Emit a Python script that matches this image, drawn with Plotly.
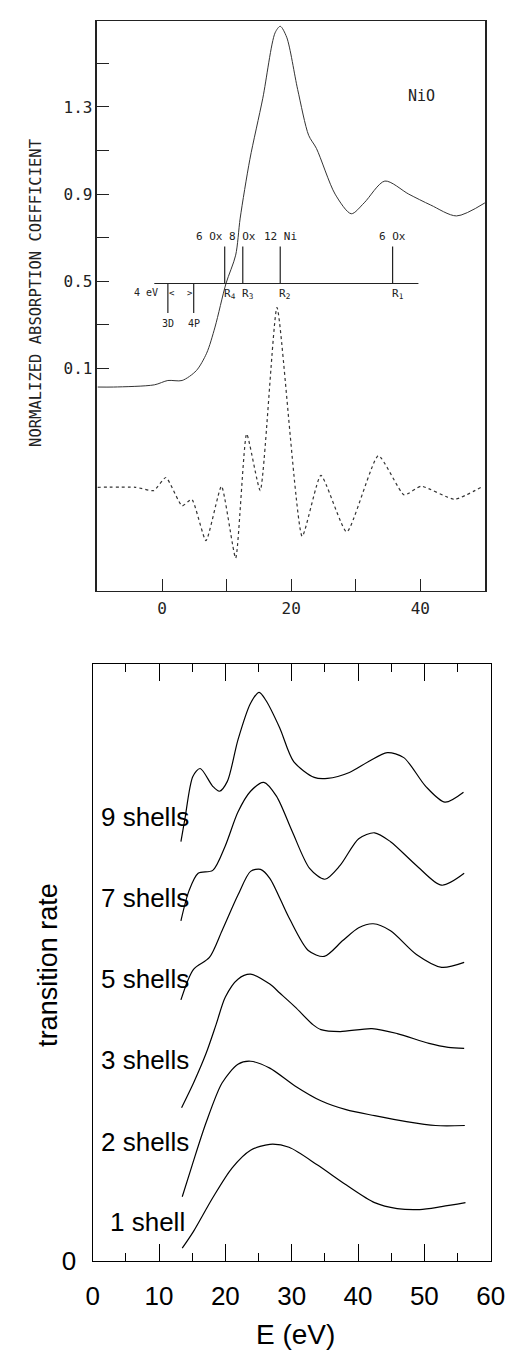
import plotly.graph_objects as go

# ---------------- top panel: NiO absorption ----------------
E_ABS = [-10, -7.5, -1.2, 0.9, 3.1, 5.3, 6.9, 8.2, 9.9, 11.4, 12.1, 13.6, 15.6, 17.5, 18.3,
         19.3, 21.0, 22.7, 23.9, 26.8, 29.3, 31.3, 34.5, 38.2, 41.6, 45.6, 50]
MU_ABS = [0.015, 0.015, 0.025, 0.045, 0.045, 0.09, 0.17, 0.29, 0.49, 0.62, 0.79, 1.06, 1.34, 1.64, 1.67,
          1.62, 1.38, 1.17, 1.11, 0.90, 0.81, 0.86, 0.96, 0.90, 0.85, 0.80, 0.86]

E_DER = [-10, -4.1, -1.3, 0.6, 3.1, 4.6, 6.8, 9.2, 11.4, 13.1, 15.2, 17.8, 21.7, 24.6,
         28.6, 33.5, 37.5, 40.1, 45.3, 49.7]
MU_DER = [-0.445, -0.445, -0.46, -0.40, -0.53, -0.50, -0.69, -0.44, -0.77, -0.20, -0.46, 0.38, -0.67, -0.39,
          -0.65, -0.30, -0.48, -0.44, -0.50, -0.44]

R_POS = [35.7, 18.3, 12.5, 9.7]
R_NAMES = ["R<sub>1</sub>", "R<sub>2</sub>", "R<sub>3</sub>", "R<sub>4</sub>"]
R_NEIGHBOURS = ["6 Ox", "12 Ni", "8 Ox", "6 Ox"]
SCALE_X = [-1.2, 39.7]
SCALE_Y = 0.49
MARK_TOP = 0.66
ORBITAL_POS = [0.9, 4.9]
ORBITAL_NAMES = ["3D", "4P"]
ORBITAL_BOTTOM = 0.355

TOP_XTICKS = [0, 10, 20, 30, 40]
TOP_XLABELS = ["0", "", "20", "", "40"]
TOP_YTICKS = [0.1, 0.3, 0.5, 0.7, 0.9, 1.1, 1.3, 1.5]
TOP_YLABELS = ["0.1", "", "0.5", "", "0.9", "", "1.3", ""]

# ---------------- bottom panel: transition rate ----------------
S9_E = [13.3, 13.9, 15.1, 16.2, 18.1, 19.1, 20.3, 21.9, 23.8, 25.1, 26.1, 28.2, 30.3, 33.4, 35.4,
        38.7, 41.6, 44.4, 46.9, 50.2, 53.1, 55.9]
S9_R = [4.24, 4.47, 4.90, 4.98, 4.80, 4.75, 4.85, 5.27, 5.64, 5.75, 5.67, 5.39, 5.05, 4.89, 4.88,
        4.94, 5.05, 5.14, 5.09, 4.80, 4.64, 4.74]
S7_E = [13.3, 14.5, 15.9, 18.1, 20.0, 21.9, 23.8, 25.8, 27.7, 30.1, 32.7, 35.0, 37.3, 40.1, 42.5,
        44.9, 48.8, 52.6, 56.0]
S7_R = [3.44, 3.74, 3.92, 3.95, 4.20, 4.54, 4.75, 4.84, 4.70, 4.34, 3.97, 3.86, 4.00, 4.27, 4.33,
        4.24, 4.00, 3.80, 3.92]
S5_E = [13.3, 15.2, 17.6, 19.5, 21.9, 23.8, 25.3, 26.7, 29.6, 32.5, 34.9, 37.7, 40.1, 42.3, 44.9,
        48.8, 52.6, 56.0]
S5_R = [2.64, 2.95, 3.07, 3.34, 3.70, 3.94, 3.96, 3.87, 3.47, 3.14, 3.08, 3.24, 3.37, 3.41, 3.34,
        3.10, 2.97, 3.02]
S3_E = [13.4, 15.2, 17.1, 18.6, 20.0, 21.9, 23.8, 26.7, 28.2, 30.5, 33.2, 34.4, 37.3, 42.1, 45.9,
        50.7, 53.6, 56.0]
S3_R = [1.55, 1.80, 2.10, 2.39, 2.67, 2.85, 2.90, 2.80, 2.71, 2.57, 2.39, 2.34, 2.32, 2.35, 2.30,
        2.20, 2.16, 2.15]
S2_E = [13.5, 15.0, 17.1, 19.5, 21.9, 23.8, 26.7, 30.5, 34.4, 38.2, 42.5, 47.3, 51.7, 56.1]
S2_R = [0.65, 0.97, 1.40, 1.80, 1.99, 2.02, 1.95, 1.77, 1.62, 1.53, 1.47, 1.41, 1.37, 1.37]
S1_E = [13.5, 15.2, 18.1, 21.0, 23.8, 26.7, 29.6, 33.9, 38.2, 42.5, 45.9, 49.3, 52.6, 56.2]
S1_R = [0.13, 0.30, 0.64, 0.94, 1.12, 1.18, 1.15, 0.97, 0.77, 0.59, 0.53, 0.52, 0.55, 0.59]

SHELL_LABELS = ["9 shells", "7 shells", "5 shells", "3 shells", "2 shells", "1 shell"]
SHELL_LABEL_Y = [4.49, 3.67, 2.85, 2.03, 1.20, 0.39]
SHELL_LABEL_X = [1.0, 1.0, 1.0, 1.0, 1.0, 2.3]

BOT_XTICKS = [0, 10, 20, 30, 40, 50, 60]

W, H = 513, 1358
MONO = "DejaVu Sans Mono"
SANS = "Liberation Sans, Arial, sans-serif"
INK = "#222"


def px_x(p):
    return p / W


def px_y(p):
    return 1 - p / H


fig = go.Figure()

# top panel traces
fig.add_trace(go.Scatter(x=E_ABS, y=MU_ABS, mode="lines", line=dict(color="#333", width=1, shape="spline", smoothing=0.8),
                         xaxis="x", yaxis="y", showlegend=False, hoverinfo="skip"))
fig.add_trace(go.Scatter(x=E_DER, y=MU_DER, mode="lines", line=dict(color="#333", width=1.2, dash="dot", shape="spline", smoothing=0.5),
                         xaxis="x", yaxis="y", showlegend=False, hoverinfo="skip"))

# scale line with shell markers
mx, my = list(SCALE_X) + [None], [SCALE_Y, SCALE_Y, None]
for r in R_POS:
    mx += [r, r, None]
    my += [SCALE_Y, MARK_TOP, None]
for o in ORBITAL_POS:
    mx += [o, o, None]
    my += [SCALE_Y, ORBITAL_BOTTOM, None]
fig.add_trace(go.Scatter(x=mx, y=my, mode="lines", line=dict(color="#222", width=1.2),
                         xaxis="x", yaxis="y", showlegend=False, hoverinfo="skip"))

ann = []
anchors = ["center", "center", "center", "right"]
for r, name, nb, anc in zip(R_POS, R_NAMES, R_NEIGHBOURS, anchors):
    ann.append(dict(x=r, y=MARK_TOP, xref="x", yref="y", text=nb, showarrow=False, xanchor=anc,
                    yanchor="bottom", yshift=1, font=dict(family=MONO, size=11, color=INK)))
    ann.append(dict(x=r, y=SCALE_Y, xref="x", yref="y", text=name, showarrow=False, xanchor="left",
                    yanchor="top", xshift=-3, yshift=-1, font=dict(family=MONO, size=11, color=INK)))
for o, name in zip(ORBITAL_POS, ORBITAL_NAMES):
    ann.append(dict(x=o, y=ORBITAL_BOTTOM, xref="x", yref="y", text=name, showarrow=False, xanchor="center",
                    yanchor="top", yshift=-3, font=dict(family=MONO, size=10, color=INK)))
mid = (SCALE_Y + ORBITAL_BOTTOM) / 2 + 0.025
ann.append(dict(x=ORBITAL_POS[0], y=mid, xref="x", yref="y", text="4 eV",
                showarrow=False, xanchor="right", yanchor="middle", xshift=-8, font=dict(family=MONO, size=10, color=INK)))
ann.append(dict(x=ORBITAL_POS[0], y=mid, xref="x", yref="y", text="<",
                showarrow=False, xanchor="left", yanchor="middle", xshift=-1, font=dict(family=MONO, size=9, color=INK)))
ann.append(dict(x=ORBITAL_POS[1], y=mid, xref="x", yref="y", text=">",
                showarrow=False, xanchor="right", yanchor="middle", xshift=1, font=dict(family=MONO, size=9, color=INK)))
ann.append(dict(x=40.1, y=1.35, xref="x", yref="y", text="NiO", showarrow=False, xanchor="center", yanchor="middle",
                font=dict(family=MONO, size=15, color=INK)))
ann.append(dict(x=px_x(22), y=px_y(288), xref="paper", yref="paper", text="NORMALIZED ABSORPTION COEFFICIENT",
                textangle=-90, showarrow=False, xanchor="center", yanchor="middle",
                font=dict(family=MONO, size=15.5, color=INK)))

# bottom panel traces
for xs, ys in [(S9_E, S9_R), (S7_E, S7_R), (S5_E, S5_R), (S3_E, S3_R), (S2_E, S2_R), (S1_E, S1_R)]:
    fig.add_trace(go.Scatter(x=xs, y=ys, mode="lines", line=dict(color="black", width=1.2, shape="spline", smoothing=0.8),
                             xaxis="x2", yaxis="y2", showlegend=False, hoverinfo="skip"))
for lab, lx, ly in zip(SHELL_LABELS, SHELL_LABEL_X, SHELL_LABEL_Y):
    ann.append(dict(x=lx, y=ly, xref="x2", yref="y2", text=lab, showarrow=False, xanchor="left", yanchor="middle",
                    font=dict(family=SANS, size=26, color="black")))
ann.append(dict(x=px_x(35), y=px_y(968), xref="paper", yref="paper", text="transition rate", textangle=-90,
                showarrow=False, xanchor="center", yanchor="middle", font=dict(family=SANS, size=27, color="black")))
ann.append(dict(x=px_x(292), y=px_y(1341), xref="paper", yref="paper", text="E (eV)",
                showarrow=False, xanchor="center", yanchor="middle", font=dict(family=SANS, size=28, color="black")))

fig.update_layout(
    width=W, height=H, autosize=False,
    margin=dict(l=0, r=0, t=0, b=0),
    paper_bgcolor="white", plot_bgcolor="white",
    annotations=ann,
    xaxis=dict(domain=[px_x(86), px_x(490)], anchor="y", range=[-10, 50], showgrid=False, zeroline=False,
               showline=True, linecolor="#222", linewidth=1.3, mirror=True,
               tickvals=TOP_XTICKS, ticktext=TOP_XLABELS, ticks="inside", ticklen=12, tickcolor="#222",
               tickfont=dict(family=MONO, size=16, color=INK), ticklabelstandoff=2),
    yaxis=dict(domain=[px_y(590), px_y(13)], anchor="x", range=[-0.923, 1.695], showgrid=False, zeroline=False,
               showline=True, linecolor="#222", linewidth=1.6, mirror=True,
               tickvals=TOP_YTICKS, ticktext=TOP_YLABELS, ticks="inside", ticklen=12, tickcolor="#222",
               tickfont=dict(family=MONO, size=16, color=INK), ticklabelstandoff=0),
    xaxis2=dict(domain=[px_x(81), px_x(496)], anchor="y2", range=[0, 60], showgrid=False, zeroline=False,
                showline=True, linecolor="black", linewidth=1.3, mirror="ticks",
                tickvals=BOT_XTICKS, ticks="inside", ticklen=17, tickcolor="black", tickwidth=1.2,
                minor=dict(dtick=5, tick0=5, ticks="inside", ticklen=8, tickcolor="black", tickwidth=1.2, showgrid=False),
                tickfont=dict(family=SANS, size=26, color="black"), ticklabelstandoff=12),
    yaxis2=dict(domain=[px_y(1267), px_y(663)], anchor="x2", range=[0, 6.04], showgrid=False, zeroline=False,
                showline=True, linecolor="black", linewidth=1.3, mirror=True,
                tickvals=[0], ticktext=["0"], ticks="", tickfont=dict(family=SANS, size=26, color="black"),
                ticklabelstandoff=10),
)

fig.write_html("out.html")
